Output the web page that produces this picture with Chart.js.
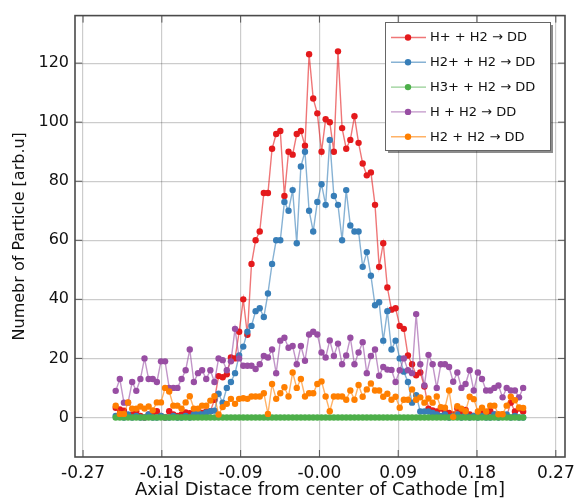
<!DOCTYPE html>
<html>
<head>
<meta charset="utf-8">
<script src="https://cdn.jsdelivr.net/npm/chart.js@4.4.1/dist/chart.umd.min.js"></script>
<style>
  html, body { margin: 0; padding: 0; background: #ffffff; }
  #wrap { width: 586px; height: 502px; position: relative; }
</style>
</head>
<body>
<div id="wrap"><canvas id="c" width="586" height="502"></canvas></div>
<script>
// ---- Data ----
const seriesLabels = ['H+ + H2 \u2192 DD', 'H2+ + H2 \u2192 DD', 'H3+ + H2 \u2192 DD', 'H + H2 \u2192 DD', 'H2 + H2 \u2192 DD'];

// axial positions of the bins [m]
const xPositions = [
  -0.2327, -0.2280, -0.2233, -0.2186, -0.2139, -0.2092, -0.2045, -0.1998, -0.1951, -0.1904,
  -0.1857, -0.1810, -0.1763, -0.1716, -0.1669, -0.1622, -0.1575, -0.1528, -0.1481, -0.1434,
  -0.1387, -0.1340, -0.1293, -0.1246, -0.1199, -0.1152, -0.1105, -0.1058, -0.1011, -0.0964,
  -0.0917, -0.0870, -0.0823, -0.0776, -0.0729, -0.0682, -0.0635, -0.0588, -0.0541, -0.0494,
  -0.0447, -0.0400, -0.0353, -0.0306, -0.0259, -0.0212, -0.0165, -0.0118, -0.0071, -0.0024,
   0.0024,  0.0071,  0.0118,  0.0165,  0.0212,  0.0259,  0.0306,  0.0353,  0.0400,  0.0447,
   0.0494,  0.0541,  0.0588,  0.0635,  0.0682,  0.0729,  0.0776,  0.0823,  0.0870,  0.0917,
   0.0964,  0.1011,  0.1058,  0.1105,  0.1152,  0.1199,  0.1246,  0.1293,  0.1340,  0.1387,
   0.1434,  0.1481,  0.1528,  0.1575,  0.1622,  0.1669,  0.1716,  0.1763,  0.1810,  0.1857,
   0.1904,  0.1951,  0.1998,  0.2045,  0.2092,  0.2139,  0.2186,  0.2233,  0.2280,  0.2327
];

const hPlusH2 = [
  3.3, 2.7, 2.3, 0.5, 1.0, 2.1, 0.5, 0.0, 1.0, 0.5,
  2.1, 0.5, 0.0, 2.1, 1.0, 0.5, 1.0, 1.7, 1.4, 1.4,
  2.6, 1.5, 2.0, 2.1, 6.0, 14.0, 13.6, 14.6, 20.3, 20.0,
  29.0, 40.0, 28.0, 52.0, 60.0, 63.0, 76.0, 76.0, 91.0, 96.0,
  97.0, 75.0, 90.0, 89.0, 96.0, 97.0, 92.0, 123.0, 108.0, 103.0,
  90.0, 101.0, 100.0, 90.0, 124.0, 98.0, 91.0, 94.0, 102.0, 93.0,
  86.0, 82.0, 83.0, 72.0, 51.0, 59.0, 44.0, 36.5, 37.0, 31.0,
  30.0, 21.0, 18.0, 14.3, 15.2, 10.5, 3.0, 2.4, 2.0, 3.0,
  2.0, 1.5, 1.0, 3.0, 2.0, 2.5, 1.0, 0.5, 1.0, 2.0,
  1.0, 2.2, 1.0, 0.5, 1.0, 0.5, 5.0, 2.0, 3.0, 2.0
];

const h2PlusH2 = [
  0.5, 1.0, 0.0, 1.0, 0.0, 0.5, 0.0, 0.0, 1.0, 0.0,
  0.0, 0.5, 0.0, 0.0, 0.5, 0.0, 0.0, 0.5, 0.0, 1.0,
  1.7, 1.0, 1.7, 2.1, 2.3, 8.0, 5.0, 10.0, 12.0, 15.0,
  21.0, 24.0, 29.0, 31.0, 36.0, 37.0, 34.0, 42.0, 52.0, 60.0,
  60.0, 73.0, 70.0, 77.0, 59.0, 85.0, 90.0, 70.0, 63.0, 73.0,
  79.0, 72.0, 94.0, 75.0, 72.0, 60.0, 77.0, 65.0, 63.0, 63.0,
  51.0, 56.0, 48.0, 38.0, 39.0, 26.0, 36.0, 23.0, 26.0, 20.0,
  15.5, 12.0, 5.0, 7.5, 2.0, 2.0, 2.0, 1.5, 1.0, 0.5,
  1.0, 0.0, 0.5, 1.0, 0.0, 1.0, 0.0, 0.5, 0.0, 0.5,
  0.0, 0.0, 1.0, 0.0, 0.5, 1.0, 0.0, 0.5, 0.0, 0.0
];

const h3PlusH2 = [
  0, 0, 0, 0, 0, 0, 0, 0, 0, 0,
  0, 0, 0, 0, 0, 0, 0, 0, 0, 0,
  0, 0, 0, 0, 0, 0, 0, 0, 0, 0,
  0, 0, 0, 0, 0, 0, 0, 0, 0, 0,
  0, 0, 0, 0, 0, 0, 0, 0, 0, 0,
  0, 0, 0, 0, 0, 0, 0, 0, 0, 0,
  0, 0, 0, 0, 0, 0, 0, 0, 0, 0,
  0, 0, 0, 0, 0, 0, 0, 0, 0, 0,
  0, 0, 0, 0, 0, 0, 0, 0, 0, 0,
  0, 0, 0, 0, 0, 0, 0, 0, 0, 0
];

const hAtomH2 = [
  9.0, 13.0, 5.0, 5.0, 12.0, 9.0, 13.0, 20.0, 13.0, 13.0,
  12.0, 19.0, 19.0, 10.0, 10.0, 10.0, 13.0, 16.0, 23.0, 12.0,
  15.0, 16.0, 13.0, 16.0, 12.0, 20.0, 19.4, 16.0, 19.0, 30.0,
  20.0, 17.5, 17.5, 17.5, 16.4, 18.0, 20.8, 20.3, 23.0, 15.0,
  26.0, 27.0, 23.6, 24.2, 18.0, 24.2, 19.2, 28.1, 29.0, 28.1,
  22.0, 20.3, 26.1, 20.8, 25.0, 18.0, 21.0, 27.0, 18.0, 22.0,
  25.5, 15.0, 20.8, 23.0, 14.1, 17.1, 16.2, 16.1, 12.0, 16.0,
  20.0, 16.0, 15.0, 35.0, 18.0, 10.8, 21.2, 18.0, 10.0, 18.0,
  18.0, 17.1, 12.1, 15.2, 10.0, 11.3, 16.0, 9.1, 15.2, 13.0,
  9.1, 9.1, 10.0, 10.8, 6.8, 10.0, 9.1, 9.1, 6.8, 10.0
];

const h2MolH2 = [
  4.0, 1.2, 1.2, 5.1, 3.0, 3.0, 3.7, 3.0, 3.7, 2.4,
  5.1, 5.1, 10.0, 8.8, 4.0, 4.0, 3.0, 5.1, 7.2, 3.0,
  3.0, 4.0, 4.0, 5.7, 7.2, 1.0, 3.5, 4.6, 6.3, 4.6,
  6.3, 6.5, 6.3, 7.1, 7.1, 7.1, 8.2, 1.2, 11.3, 6.3,
  8.2, 10.2, 7.1, 15.2, 10.0, 13.0, 7.1, 8.2, 8.2, 11.3,
  12.2, 7.1, 2.1, 7.1, 7.1, 7.1, 6.0, 9.1, 6.0, 11.0,
  7.0, 9.5, 11.5, 9.1, 9.1, 7.0, 8.0, 6.0, 7.0, 3.3,
  6.0, 6.0, 9.5, 6.0, 6.8, 5.0, 6.4, 5.0, 7.1, 3.5,
  3.3, 9.1, 0.2, 3.8, 3.0, 2.1, 7.0, 6.2, 2.0, 3.3,
  2.0, 4.0, 4.0, 1.1, 1.1, 4.0, 7.0, 5.8, 3.4, 3.2
];

const xTickValues = [-0.27, -0.18, -0.09, 0, 0.09, 0.18, 0.27];
const xTickLabels = ['-0.27', '-0.18', '-0.09', '-0.00', '0.09', '0.18', '0.27'];
const yTickValues = [0, 20, 40, 60, 80, 100, 120];
const yTickLabels = ['0', '20', '40', '60', '80', '100', '120'];

// ---- Styles ----
const seriesColors = [
  [228, 26, 28],
  [55, 126, 184],
  [77, 175, 74],
  [152, 78, 163],
  [255, 127, 0]
];
const seriesValues = [hPlusH2, h2PlusH2, h3PlusH2, hAtomH2, h2MolH2];
const FONT = '"DejaVu Sans", "Liberation Sans", Arial, sans-serif';

const datasets = seriesValues.map((vals, k) => {
  const c = seriesColors[k];
  return {
    label: seriesLabels[k],
    data: vals.map((v, i) => ({ x: xPositions[i], y: v })),
    borderColor: `rgba(${c[0]},${c[1]},${c[2]},0.6)`,
    backgroundColor: `rgb(${c[0]},${c[1]},${c[2]})`,
    pointBackgroundColor: `rgb(${c[0]},${c[1]},${c[2]})`,
    pointBorderColor: `rgb(${c[0]},${c[1]},${c[2]})`,
    pointBorderWidth: 0,
    pointRadius: 3.2,
    borderWidth: 1.4,
    tension: 0,
    order: 5 - k
  };
});

// frame + inside tick marks
const framePlugin = {
  id: 'frame',
  afterDatasetsDraw(chart) {
    const { ctx, chartArea: a, scales } = chart;
    ctx.save();
    ctx.strokeStyle = '#555555';
    ctx.lineWidth = 1;
    const tl = 7;
    ctx.beginPath();
    scales.x.ticks.forEach(t => {
      const px = scales.x.getPixelForValue(t.value);
      ctx.moveTo(px, a.bottom); ctx.lineTo(px, a.bottom - tl);
      ctx.moveTo(px, a.top); ctx.lineTo(px, a.top + tl);
    });
    scales.y.ticks.forEach(t => {
      const py = scales.y.getPixelForValue(t.value);
      ctx.moveTo(a.left, py); ctx.lineTo(a.left + tl, py);
      ctx.moveTo(a.right, py); ctx.lineTo(a.right - tl, py);
    });
    ctx.stroke();
    ctx.lineWidth = 1.6;
    ctx.strokeStyle = '#4a4a4a';
    ctx.strokeRect(a.left, a.top, a.right - a.left, a.bottom - a.top);
    ctx.restore();
  }
};

// legend box inside the plot (upper right)
const legendPlugin = {
  id: 'boxLegend',
  afterDraw(chart) {
    const { ctx } = chart;
    const x0 = 385, y0 = 22, w = 165, h = 128;
    ctx.save();
    ctx.fillStyle = 'rgba(0,0,0,0.45)';
    ctx.fillRect(x0 + 3, y0 + 3, w, h);
    ctx.fillStyle = '#ffffff';
    ctx.fillRect(x0, y0, w, h);
    ctx.strokeStyle = '#666666';
    ctx.lineWidth = 1;
    ctx.strokeRect(x0 + 0.5, y0 + 0.5, w, h);
    chart.data.datasets.forEach((ds, k) => {
      const cy = y0 + 15.5 + k * 24.8;
      ctx.strokeStyle = ds.borderColor;
      ctx.lineWidth = 1.4;
      ctx.beginPath();
      ctx.moveTo(x0 + 6, cy); ctx.lineTo(x0 + 41, cy);
      ctx.stroke();
      ctx.fillStyle = ds.pointBackgroundColor;
      ctx.beginPath();
      ctx.arc(x0 + 23, cy, 3.2, 0, Math.PI * 2);
      ctx.fill();
      ctx.fillStyle = '#111111';
      ctx.font = '13px ' + FONT;
      ctx.textBaseline = 'middle';
      ctx.textAlign = 'left';
      ctx.fillText(ds.label, x0 + 45, cy + 0.5);
    });
    ctx.restore();
  }
};

new Chart(document.getElementById('c'), {
  type: 'line',
  data: { datasets },
  options: {
    responsive: false,
    animation: false,
    devicePixelRatio: 1,
    layout: { padding: { left: 0, right: 21, top: 12, bottom: 0 } },
    plugins: { legend: { display: false }, tooltip: { enabled: false } },
    scales: {
      x: {
        type: 'linear',
        min: -0.2792,
        max: 0.2805,
        afterBuildTicks(scale) { scale.ticks = xTickValues.map(v => ({ value: v })); },
        afterFit(scale) { scale.height = 45; },
        ticks: {
          autoSkip: false,
          maxRotation: 0,
          padding: 6,
          color: '#111111',
          font: { family: FONT, size: 17 },
          callback(value) {
            const idx = xTickValues.findIndex(v => Math.abs(v - value) < 1e-9);
            return idx >= 0 ? xTickLabels[idx] : '';
          }
        },
        grid: { color: 'rgba(0,0,0,0.2)', lineWidth: 1.2, drawTicks: false },
        border: { display: false },
        title: {
          display: true,
          text: 'Axial Distace from center of Cathode [m]',
          color: '#111111',
          font: { family: FONT, size: 18 },
          padding: { top: 0, bottom: 1 }
        }
      },
      y: {
        type: 'linear',
        min: -13.4,
        max: 136.1,
        afterBuildTicks(scale) { scale.ticks = yTickValues.map(v => ({ value: v })); },
        afterFit(scale) { scale.width = 75; },
        ticks: {
          padding: 6,
          color: '#111111',
          font: { family: FONT, size: 16 },
          callback(value) {
            const idx = yTickValues.indexOf(value);
            return idx >= 0 ? yTickLabels[idx] : '';
          }
        },
        grid: { color: 'rgba(0,0,0,0.2)', lineWidth: 1.2, drawTicks: false },
        border: { display: false },
        title: {
          display: true,
          text: 'Numebr of Particle [arb.u]',
          color: '#111111',
          font: { family: FONT, size: 16 },
          padding: { top: 10, bottom: 0 }
        }
      }
    }
  },
  plugins: [framePlugin, legendPlugin]
});
</script>
</body>
</html>
